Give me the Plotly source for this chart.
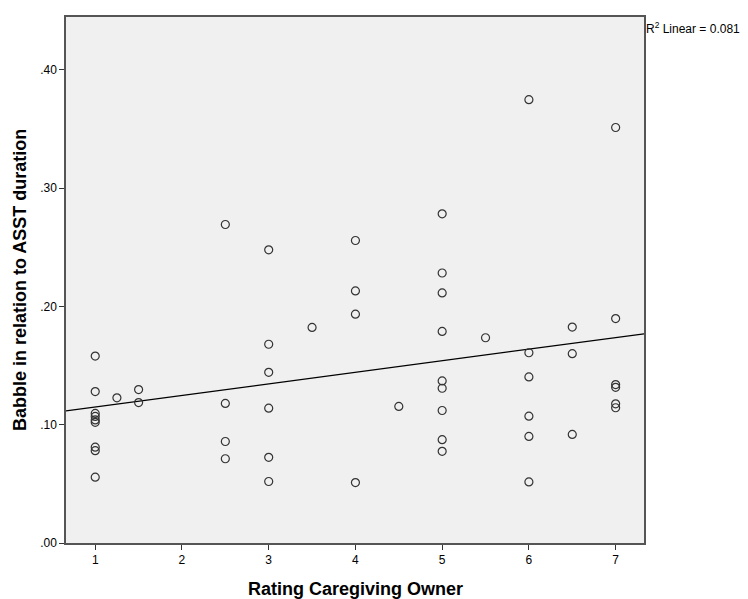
import numpy as np
import plotly.graph_objects as go

rating = [1, 1, 1, 1, 1, 1, 1, 1, 1,
          1.25, 1.5, 1.5,
          2.5, 2.5, 2.5, 2.5,
          3, 3, 3, 3, 3, 3,
          3.5,
          4, 4, 4, 4,
          4.5,
          5, 5, 5, 5, 5, 5, 5, 5, 5,
          5.5,
          6, 6, 6, 6, 6, 6,
          6.5, 6.5, 6.5,
          7, 7, 7, 7, 7, 7]
babble = [0.158, 0.128, 0.1095, 0.107, 0.104, 0.102, 0.081, 0.078, 0.0556,
          0.1227, 0.1297, 0.1187,
          0.2692, 0.118, 0.0858, 0.0712,
          0.2478, 0.168, 0.1443, 0.1140, 0.0724, 0.0520,
          0.1822,
          0.2557, 0.2131, 0.1934, 0.0511,
          0.1154,
          0.2782, 0.2282, 0.2114, 0.1788, 0.1370, 0.1308, 0.1120, 0.0873, 0.0775,
          0.1735,
          0.3747, 0.1608, 0.1404, 0.1072, 0.0901, 0.0516,
          0.1825, 0.1600, 0.0918,
          0.3512, 0.1897, 0.1339, 0.1316, 0.1176, 0.1143]

x_ticks = [1, 2, 3, 4, 5, 6, 7]
y_ticks = [0.0, 0.1, 0.2, 0.3, 0.4]
y_tick_labels = [".00", ".10", ".20", ".30", ".40"]
x_range = [0.663, 7.327]
y_range = [0.0, 0.4446]

slope, intercept = np.polyfit(rating, babble, 1)
fit_x = np.array(x_range)
fit_y = intercept + slope * fit_x

fig = go.Figure()
fig.add_trace(go.Scatter(
    x=fit_x, y=fit_y, mode="lines",
    line=dict(color="#000000", width=1.2), hoverinfo="skip", showlegend=False))
fig.add_trace(go.Scatter(
    x=rating, y=babble, mode="markers",
    marker=dict(symbol="circle-open", size=8, color="#333333",
                line=dict(width=1.2, color="#333333")),
    showlegend=False))

fig.add_annotation(
    x=1.0, y=1.0, xref="paper", yref="paper", xanchor="left", yanchor="middle",
    xshift=0, yshift=-11,
    text="R<sup>2</sup> Linear = 0.081", showarrow=False,
    font=dict(family="Liberation Sans, Arial, sans-serif", size=12, color="#000000"))

title_font = dict(family="Liberation Sans, Arial, sans-serif", size=18, color="#000000")
fig.add_annotation(
    x=0, y=0.5, xref="paper", yref="paper", xanchor="center", yanchor="middle",
    xshift=-46, textangle=-90, showarrow=False,
    text="<b>Babble in relation to ASST duration</b>", font=title_font)
fig.add_annotation(
    x=0.5, y=0, xref="paper", yref="paper", xanchor="center", yanchor="middle",
    yshift=-46, showarrow=False,
    text="<b>Rating Caregiving Owner</b>", font=title_font)

axis_font = dict(family="Liberation Sans Narrow, Liberation Sans, Arial, sans-serif", size=12, color="#000000")

fig.update_layout(
    width=740, height=591,
    margin=dict(l=58, r=104, t=7, b=56),
    paper_bgcolor="#ffffff", plot_bgcolor="#f0f0f0",
    xaxis=dict(
        range=x_range, tickvals=x_ticks, ticktext=[str(v) for v in x_ticks],
        showgrid=False, zeroline=False, showline=True, mirror=True,
        linecolor="#555555", linewidth=1.5,
        ticks="outside", ticklen=5, tickcolor="#333333",
        tickfont=axis_font,
    ),
    yaxis=dict(
        range=y_range, tickvals=y_ticks, ticktext=y_tick_labels,
        showgrid=False, zeroline=False, showline=True, mirror=True,
        linecolor="#555555", linewidth=1.5,
        ticks="outside", ticklen=5, tickcolor="#333333",
        tickfont=axis_font,
    ),
)

fig.write_html("out.html")
